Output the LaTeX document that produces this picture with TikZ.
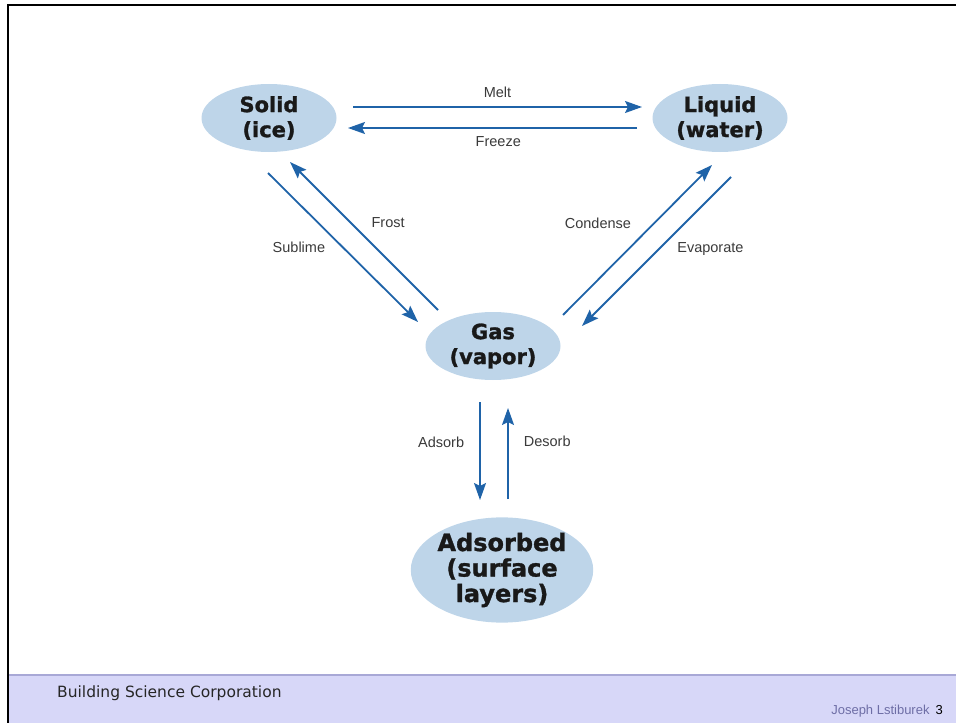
\documentclass[tikz,border=0pt]{standalone}
\usepackage{fontspec}
\usepackage{xcolor}
\setmainfont{Liberation Sans}
\newfontfamily\dejavu{DejaVu Sans}
\newfontfamily\phasefont{DejaVu Sans Bold}[FakeBold=1.3]
\usetikzlibrary{shapes.geometric, arrows.meta}
\definecolor{phaseblue}{HTML}{BED5E9}
\definecolor{arrowblue}{HTML}{1F63A8}
\definecolor{labelgray}{HTML}{3A3A3A}
\definecolor{footerfill}{HTML}{D7D7F8}
\definecolor{footerline}{HTML}{A8A8D6}
\definecolor{authorgray}{HTML}{6E6EA6}

\begin{document}
\begin{tikzpicture}[
  x=1bp, y=-1bp,
  phase/.style={ellipse, fill=phaseblue, inner sep=0pt, minimum width=135bp, minimum height=68bp, align=center, text=black!90, font=\phasefont\fontsize{21bp}{25bp}\selectfont},
  flow/.style={-{Stealth[length=17bp, width=12bp, inset=3bp]}, line width=1.8bp, draw=arrowblue},
  lbl/.style={inner sep=0pt, text=labelgray, font=\fontsize{14.5bp}{17bp}\selectfont}
]
  \useasboundingbox (0,0) rectangle (956,723);
  \fill[footerfill] (9,675) rectangle (956,723);
  \draw[footerline, line width=1.5bp] (9,675) -- (956,675);
  \draw[line width=2bp] (8,723) -- (8,5) -- (956,5);

  \node[phase] (solid) at (269,118) {Solid\\(ice)};
  \node[phase] (liquid) at (720,118) {Liquid\\(water)};
  \node[phase] (gas) at (493,346) {Gas\\(vapor)};
  \node[phase, minimum width=181bp, minimum height=100bp, font=\phasefont\fontsize{24bp}{25.5bp}\selectfont] (adsorbed) at (502,570) {Adsorbed\\(surface\\layers)};

  \draw[flow] ([shift={(84,-11)}]solid.center) -- node[lbl, above=8.5bp] {Melt} ([shift={(-78,-11)}]liquid.center);
  \draw[flow] ([shift={(-83,10)}]liquid.center) -- node[lbl, pos=0.48, below=7.5bp] {Freeze} ([shift={(79,10)}]solid.center);
  \draw[flow] ([shift={(-1,55)}]solid.center) -- node[lbl, left=17bp] {Sublime} ([shift={(-75,-24)}]gas.center);
  \draw[flow] ([shift={(-55,-36)}]gas.center) -- node[lbl, pos=0.59, right=20bp] {Frost} ([shift={(21,44)}]solid.center);
  \draw[flow] ([shift={(70,-31)}]gas.center) -- node[lbl, pos=0.61, left=22bp] {Condense} ([shift={(-8,47)}]liquid.center);
  \draw[flow] ([shift={(11,59)}]liquid.center) -- node[lbl, pos=0.48, right=17bp] {Evaporate} ([shift={(89,-20)}]gas.center);
  \draw[flow] ([shift={(-13,56)}]gas.center) -- node[lbl, pos=0.41, left=15bp] {Adsorb} ([shift={(-22,-70)}]adsorbed.center);
  \draw[flow] ([shift={(6,-71)}]adsorbed.center) -- node[lbl, pos=0.63, right=15bp] {Desorb} ([shift={(15,62)}]gas.center);

  \node[anchor=base west, inner sep=0pt, text=black!85, font=\dejavu\fontsize{15.5bp}{18bp}\selectfont] (company) at (57,697) {Building Science Corporation};
  \node[anchor=base east, inner sep=0pt, font=\fontsize{13bp}{15bp}\selectfont] (author) at (943,714) {\textcolor{authorgray}{Joseph Lstiburek}\hspace{6bp}3};
\end{tikzpicture}
\end{document}
